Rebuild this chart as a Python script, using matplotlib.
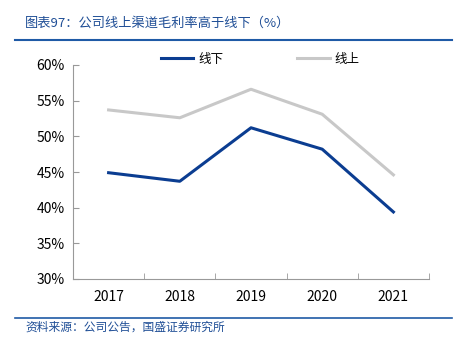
import matplotlib.pyplot as plt
from matplotlib.lines import Line2D

plt.rcParams['font.family'] = ['Noto Sans CJK SC', 'DejaVu Sans']

years = ['2017', '2018', '2019', '2020', '2021']
offline = [44.9, 43.7, 51.2, 48.2, 39.4]
online = [53.7, 52.6, 56.6, 53.1, 44.6]
y_ticks = [30, 35, 40, 45, 50, 55, 60]

fig = plt.figure(figsize=(4.54, 3.54), dpi=100)
W, H = 454, 354
ax = fig.add_axes([73 / W, 1 - 279 / H, (429 - 73) / W, (279 - 65) / H])

x = list(range(len(years)))
ax.plot(x, offline, color='#0b3d91', lw=2.2, label='线下')
ax.plot(x, online, color='#c8c8c8', lw=2.2, label='线上')

ax.set_xlim(-0.5, len(years) - 0.5)
ax.set_ylim(30, 60)
ax.set_yticks(y_ticks)
ax.set_yticklabels([f'{v}%' for v in y_ticks], fontsize=10)
ax.set_xticks(x)
ax.set_xticklabels(years, fontsize=10)
ax.set_xticks([i + 0.5 for i in range(-1, len(years))], minor=True)
ax.tick_params(axis='x', which='major', length=0, pad=8)
ax.tick_params(axis='x', which='minor', direction='in', length=4, color='#999999')
ax.tick_params(axis='y', direction='in', length=4, color='#999999', pad=6)

for s in ['top', 'right']:
    ax.spines[s].set_visible(False)
for s in ['left', 'bottom']:
    ax.spines[s].set_color('#999999')

handles = [Line2D([], [], color='#0b3d91', lw=2.2), Line2D([], [], color='#c8c8c8', lw=2.2)]
ax.legend(handles, ['线下', '线上'], loc='center', bbox_to_anchor=(0.526, 1 + 6 / 214),
          ncol=2, frameon=False, fontsize=9, handlelength=2.6, columnspacing=5.9,
          handletextpad=0.4, borderpad=0, borderaxespad=0)

fig.text(25 / W, 1 - 23 / H, '图表97：公司线上渠道毛利率高于线下（%）', color='#1f4e96',
         fontsize=9.5, style='italic', va='center')
fig.add_artist(Line2D([15 / W, 452 / W], [1 - 40 / H, 1 - 40 / H], color='#1f5aa6', lw=1.5))
fig.add_artist(Line2D([15 / W, 452 / W], [1 - 318 / H, 1 - 318 / H], color='#1f5aa6', lw=1.2))
fig.text(25 / W, 1 - 327 / H, '资料来源：公司公告，国盛证券研究所', color='#1f4e96',
         fontsize=8.5, style='italic', va='center')

fig.savefig('out.png', dpi=100)
